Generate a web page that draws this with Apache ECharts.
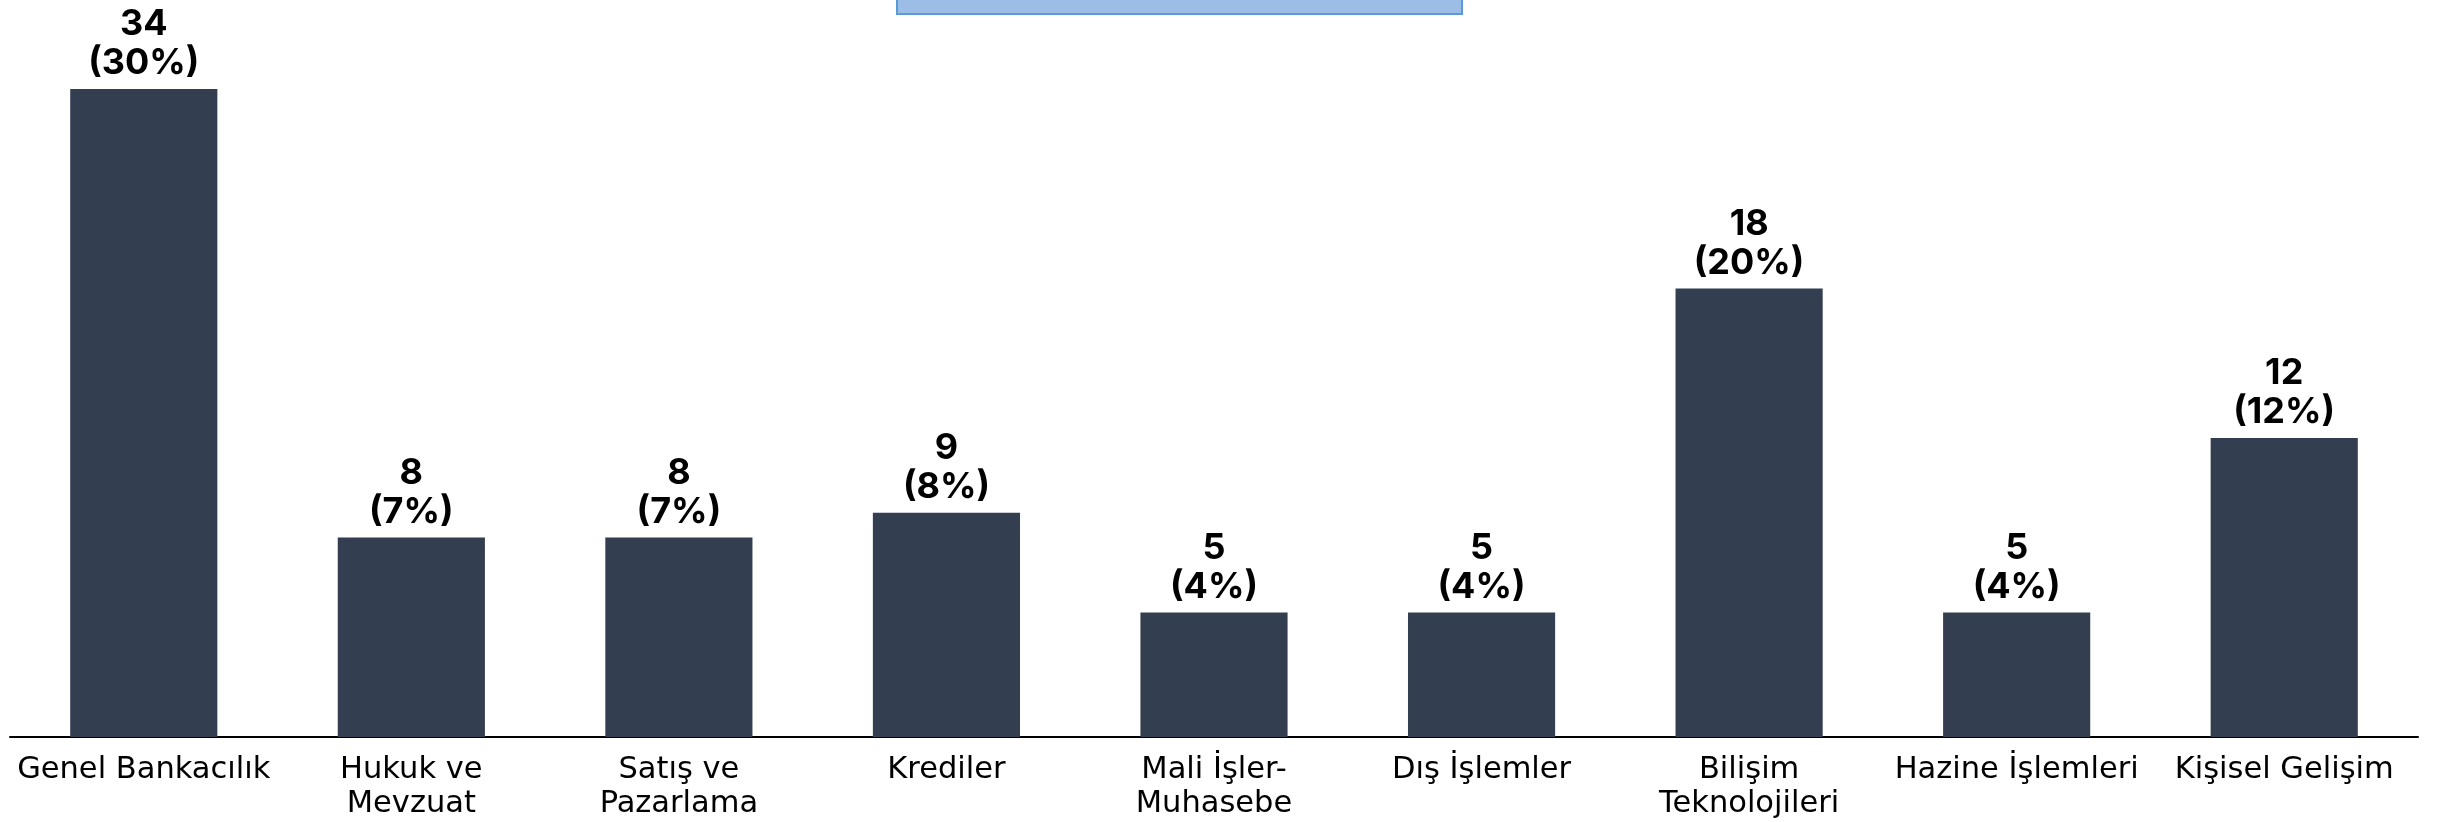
<!DOCTYPE html>
<html>
<head>
<meta charset="utf-8">
<style>html,body{margin:0;padding:0;background:#fff;}#c{width:2437px;height:822px;}</style>
<script src="https://cdn.jsdelivr.net/npm/echarts@6/dist/echarts.min.js"></script>
</head>
<body>
<div id="c"></div>
<script>
const categories = ["Genel Bankacılık", "Hukuk ve\nMevzuat", "Satış ve\nPazarlama", "Krediler", "Mali İşler-\nMuhasebe", "Dış İşlemler", "Bilişim\nTeknolojileri", "Hazine İşlemleri", "Kişisel Gelişim"];
const counts = [34, 8, 8, 9, 5, 5, 18, 5, 12];
const percents = [30, 7, 7, 8, 4, 4, 20, 4, 12];

const chart = echarts.init(document.getElementById('c'));
chart.setOption({
  animation: false,
  backgroundColor: '#ffffff',
  grid: { left: 10, right: 19, top: 89, bottom: 85, containLabel: false },
  xAxis: {
    type: 'category',
    data: categories,
    axisLine: { show: true, lineStyle: { color: '#000', width: 2 } },
    axisTick: { show: false },
    axisLabel: {
      interval: 0, margin: 16, color: '#000',
      fontFamily: '"DejaVu Sans", sans-serif', fontSize: 30.5, lineHeight: 34
    }
  },
  yAxis: { type: 'value', min: 0, max: 26, show: false, splitLine: { show: false } },
  series: [{
    type: 'bar',
    data: counts,
    barWidth: '55%',
    clip: true,
    itemStyle: { color: '#333F50' },
    label: {
      show: true, position: 'top', distance: 6, color: '#000',
      fontFamily: 'Inter, "Noto Sans", sans-serif', fontWeight: 'bold', fontSize: 36, lineHeight: 39,
      formatter: p => p.value + '\n(' + percents[p.dataIndex] + '%)'
    }
  }],
  graphic: [{
    type: 'rect', left: 896, top: -10,
    shape: { width: 565, height: 23 },
    style: { fill: '#9BBDE6', stroke: '#5B9BD5', lineWidth: 2 }
  }]
});
</script>
</body>
</html>
